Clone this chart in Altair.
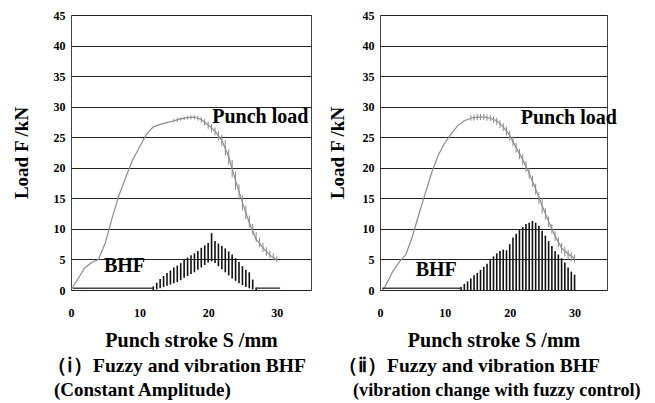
import altair as alt
import pandas as pd

# ---------------- data ----------------
# Punch load curves (kN) vs punch stroke (mm)
left_load_s = [0.1] + list(range(1, 31))
left_load_f = [0.2, 1.8, 3.6, 4.5, 5.0, 7.7, 11.8, 15.5, 18.5, 21.3, 23.4, 25.5, 26.7, 27.1,
               27.4, 27.7, 28.0, 28.2, 28.3, 27.9, 27.0, 26.0, 24.5, 21.8, 17.9, 14.3, 11.0,
               8.3, 6.9, 5.7, 4.9]
right_load_s = [0.5] + list(range(1, 31))
right_load_f = [0.0, 1.0, 3.1, 4.6, 5.8, 8.8, 12.4, 15.9, 19.3, 22.1, 24.1, 25.6, 26.9, 27.7,
                28.1, 28.3, 28.3, 28.1, 27.7, 26.7, 25.3, 23.3, 21.3, 19.1, 16.5, 13.8, 11.2,
                8.8, 6.9, 5.9, 5.2]

# Punch load fluctuation (small vertical strokes)
left_jit_s = [15 + 0.5 * i for i in range(31)]
left_jit_lo = [27.4, 27.5, 27.7, 27.8, 27.9, 27.9, 27.9, 27.7, 27.4, 26.9, 26.4, 25.8, 25.3, 24.5,
               23.5, 22.0, 20.5, 18.4, 16.4, 14.8, 13.0, 11.6, 10.2, 9.0, 7.9, 7.0, 6.2, 5.6, 5.2,
               4.8, 4.5]
left_jit_hi = [28.0, 28.2, 28.3, 28.4, 28.5, 28.6, 28.6, 28.5, 28.3, 28.0, 27.6, 27.1, 26.6, 26.0,
               25.4, 24.5, 23.0, 21.3, 19.4, 17.3, 15.5, 13.8, 12.2, 10.8, 9.5, 8.6, 7.7, 7.0, 6.4,
               6.0, 5.5]
right_jit_s = [14 + 0.5 * i for i in range(33)]
right_jit_lo = [27.7, 27.7, 27.8, 27.8, 27.8, 27.7, 27.6, 27.3, 27.0, 26.5, 26.0, 25.3, 24.5, 23.5,
                22.5, 21.4, 20.4, 19.3, 18.2, 16.9, 15.6, 14.0, 12.5, 11.5, 10.3, 9.2, 8.0, 7.0,
                6.0, 5.5, 5.0, 4.7, 4.5]
right_jit_hi = [28.6, 28.7, 28.8, 28.8, 28.8, 28.7, 28.6, 28.4, 28.2, 27.8, 27.3, 26.7, 26.0, 25.1,
                24.1, 23.1, 22.2, 21.1, 20.0, 18.7, 17.4, 16.0, 15.1, 13.4, 12.0, 10.8, 9.6, 8.6,
                7.7, 7.1, 6.6, 6.2, 5.8]

# BHF vibration band
left_bhf_s = [12 + 0.5 * i for i in range(31)]
left_bhf_lo = [0.0, 0.1, 0.3, 0.5, 0.7, 0.9, 1.1, 1.3, 1.6, 2.0, 2.3, 2.6, 2.9, 3.3, 3.7, 4.1,
               4.5, 4.7, 4.4, 3.9, 3.4, 2.9, 2.4, 1.9, 1.5, 1.1, 0.8, 0.5, 0.3, 0.1, 0.0]
left_bhf_hi = [0.6, 1.2, 1.8, 2.3, 2.8, 3.2, 3.7, 4.0, 4.4, 4.9, 5.3, 5.7, 6.0, 6.4, 6.9, 7.3,
               7.7, 9.3, 8.0, 7.6, 7.2, 6.8, 6.3, 5.8, 5.2, 4.6, 3.9, 3.3, 2.9, 1.7, 0.4]
right_bhf_s = [12.5 + 0.5 * i for i in range(36)]
right_bhf_lo = [0.0] * 36
right_bhf_hi = [0.5, 1.0, 1.4, 1.9, 2.4, 2.8, 3.3, 3.8, 4.3, 4.9, 5.5, 6.0, 6.4, 6.6, 6.5, 7.5,
                8.6, 9.2, 9.8, 10.3, 10.8, 11.0, 11.3, 11.0, 10.5, 9.7, 8.9, 8.0, 7.2, 6.4, 5.8,
                5.2, 4.5, 3.7, 3.0, 2.5]

# BHF near-zero segments
left_base_s = [0.3, 12.0, 27.0, 30.5]
left_base_f = [0.3, 0.3, 0.3, 0.3]
left_base_seg = ["a", "a", "b", "b"]
right_base_s = [0.3, 12.5]
right_base_f = [0.3, 0.3]
right_base_seg = ["a", "a"]

# Annotations
ann_text = ["Punch load", "BHF"]
left_ann_s = [20.6, 4.8]
left_ann_f = [27.3, 2.9]
right_ann_s = [21.7, 5.5]
right_ann_f = [27.2, 2.3]

left_caption = ["（ⅰ）Fuzzy and vibration BHF", "(Constant Amplitude)"]
right_caption = ["（ⅱ）Fuzzy and vibration BHF", "(vibration change with fuzzy control)"]

x_ticks = [0, 10, 20, 30]
y_ticks = [0, 5, 10, 15, 20, 25, 30, 35, 40, 45]

SERIF = "Liberation Serif"


def panel(load_s, load_f, jit_s, jit_lo, jit_hi, bhf_s, bhf_lo, bhf_hi,
          base_s, base_f, base_seg, ann_s, ann_f, caption, width, cap_dx, cap_fs,
          ytitle_pad):
    x_enc = alt.X("s:Q", scale=alt.Scale(domain=[0, 35], nice=False),
                  axis=alt.Axis(values=x_ticks, title="Punch stroke S /mm", grid=False,
                                ticks=False, domain=False, labelPadding=17, titlePadding=12,
                                titleFontSize=20, labelFlush=False))
    y_enc = alt.Y("f:Q", scale=alt.Scale(domain=[0, 45], nice=False),
                  axis=alt.Axis(values=y_ticks, title="Load F /kN", grid=True,
                                ticks=False, domain=False, labelPadding=6,
                                titlePadding=ytitle_pad))

    load = pd.DataFrame({"s": load_s, "f": load_f})
    jit = pd.DataFrame({"s": jit_s, "f": jit_lo, "f2": jit_hi})
    bhf = pd.DataFrame({"s": bhf_s, "f": bhf_lo, "f2": bhf_hi})
    base = pd.DataFrame({"s": base_s, "f": base_f, "seg": base_seg})
    ann = pd.DataFrame({"s": ann_s, "f": ann_f, "t": ann_text})

    l_load = alt.Chart(load).mark_line(color="#8c8c8c", strokeWidth=1.2).encode(x=x_enc, y=y_enc)
    l_jit = alt.Chart(jit).mark_rule(color="#8c8c8c", strokeWidth=1).encode(
        x=x_enc, y=y_enc, y2="f2:Q")
    l_bhf = alt.Chart(bhf).mark_rule(color="#111111", strokeWidth=1.6).encode(
        x=x_enc, y=y_enc, y2="f2:Q")
    l_base = alt.Chart(base).mark_line(color="#444444", strokeWidth=1.5).encode(
        x=x_enc, y=y_enc, detail="seg:N")
    l_ann = alt.Chart(ann).mark_text(align="left", baseline="alphabetic", font=SERIF,
                                     fontSize=20, fontWeight="bold", color="black").encode(
        x=x_enc, y=y_enc, text="t:N")
    caps = []
    for line, ypix, dx, fs in zip(caption, [357, 381], cap_dx, cap_fs):
        caps.append(alt.Chart(pd.DataFrame({"t": [line]})).mark_text(
            align="left", baseline="alphabetic", font=SERIF, fontSize=fs,
            fontWeight="bold", color="black").encode(
            x=alt.value(dx), y=alt.value(ypix), text="t:N"))
    return alt.layer(l_load, l_jit, l_bhf, l_base, l_ann, *caps).properties(
        width=width, height=275)


left = panel(left_load_s, left_load_f, left_jit_s, left_jit_lo, left_jit_hi,
             left_bhf_s, left_bhf_lo, left_bhf_hi, left_base_s, left_base_f, left_base_seg,
             left_ann_s, left_ann_f, left_caption, 240, [-24, -17], [19.5, 19], 22)
right = panel(right_load_s, right_load_f, right_jit_s, right_jit_lo, right_jit_hi,
              right_bhf_s, right_bhf_lo, right_bhf_hi, right_base_s, right_base_f, right_base_seg,
              right_ann_s, right_ann_f, right_caption, 227, [-42, -27], [19.5, 18.2], 15)

chart = alt.hconcat(left, right, spacing=15).properties(
    padding={"left": 3, "top": 0, "right": 0, "bottom": 2}
).configure_view(stroke="#444444", strokeWidth=1).configure_axis(
    labelFont=SERIF, labelFontSize=12, labelFontWeight="bold", labelColor="black",
    titleFont=SERIF, titleFontSize=19, titleFontWeight="bold", titleColor="black",
    gridColor="#222222", gridWidth=1, gridOpacity=1
)

chart.save("out.html", embed_options={"renderer": "svg", "actions": False})
